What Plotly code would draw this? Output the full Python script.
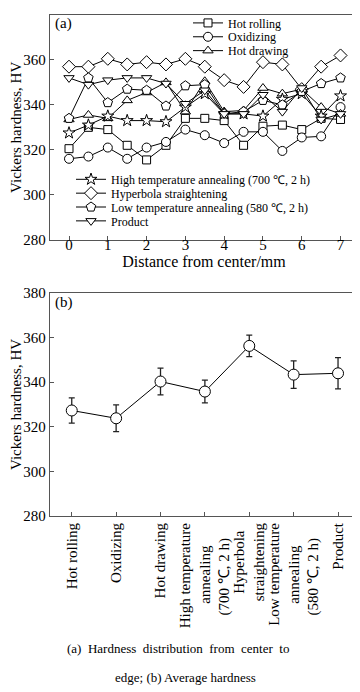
import plotly.graph_objects as go

# ---------------- data ----------------
distance = [0, 0.5, 1, 1.5, 2, 2.5, 3, 3.5, 4, 4.5, 5, 5.5, 6, 6.5, 7]

hot_rolling = [320.5, 330, 329, 322, 315.5, 322, 334, 334, 333, 322, 330.5, 331, 329, 334, 333.5]
oxidizing = [316, 317, 321, 316, 321, 323.5, 329, 326.5, 323, 328, 328, 319.5, 325.5, 326, 339]
hot_drawing = [333.5, 335.5, 334, 342, 345.5, 350, 337, 350.5, 337, 337.5, 347.5, 345, 347, 339, 336]
high_temp = [327.5, 331, 335, 333, 333, 332.5, 339, 345, 336, 336, 335, 342.5, 345, 335, 344]
hyperbola = [357, 357, 360.5, 358, 359, 358, 360.5, 357, 351, 348, 359, 358, 347, 357, 362]
low_temp = [334, 352, 341, 347, 346.5, 339.5, 348.5, 349, 336, 337, 342, 340, 346, 349.5, 352]
product = [352, 349, 351, 352, 352, 349.5, 340.5, 346.5, 336, 336, 344.5, 337, 347.5, 333.5, 336]

series_names = [
    "Hot rolling", "Oxidizing", "Hot drawing",
    "High temperature annealing (700 \u2103, 2 h)",
    "Hyperbola straightening",
    "Low temperature annealing (580 \u2103, 2 h)",
    "Product",
]
series_values = [hot_rolling, oxidizing, hot_drawing, high_temp, hyperbola, low_temp, product]
series_symbols = ["square", "circle", "triangle-up", "star", "diamond", "pentagon", "triangle-down"]
series_sizes = [8, 9, 9, 9, 10, 10, 9]

# category labels of the average-hardness panel (lines centred with no-break spaces)
NB = "\u00a0"
avg_labels = [
    "Hot rolling", "Oxidizing", "Hot drawing",
    "High temperature<br>" + NB * 6 + "annealing" + NB * 6 + "<br>" + NB * 4 + "(700 \u2103, 2 h)" + NB * 4,
    NB * 2 + "Hyperbola" + NB * 2 + "<br>straightening",
    "Low temperature<br>" + NB * 6 + "annealing" + NB * 6 + "<br>" + NB * 4 + "(580 \u2103, 2 h)" + NB * 4,
    "Product",
]
avg_hardness = [327.3, 323.8, 340.3, 335.8, 356.3, 343.4, 344.0]
avg_error = [5.7, 6.0, 6.0, 5.1, 4.8, 6.2, 7.0]

y_ticks = [280, 300, 320, 340, 360, 380]
x_ticks = [0, 1, 2, 3, 4, 5, 6, 7]

# ---------------- figure ----------------
# the page body has an 8 px margin, so the figure starts at window pixel (8, 8)
OFF = 8
W, H = 360 - OFF, 692 - OFF
L = 50 - OFF          # left edge of plot frame (window x = 50)
R = W - (358 - OFF)   # right edge of plot frame (window x = 358)
FONT = "Liberation Serif, Times New Roman, serif"

def px_x(p):  # window px -> paper x
    return (p - OFF - L) / (W - L - R)

def px_y(p):  # window px -> paper y
    return min(1.0, 1 - (p - OFF) / H)

fig = go.Figure()

# legend placement (window pixels) for each series: (x_left, y_center)
legend_pos = [(188, 16), (188, 30), (188, 44), (71, 174), (71, 188), (71, 202), (71, 216)]

for i, (name, vals) in enumerate(zip(series_names, series_values)):
    lname = "legend" if i == 0 else f"legend{i+1}"
    fig.add_trace(go.Scatter(
        x=distance, y=vals, name=name, mode="lines+markers",
        line=dict(color="black", width=1),
        marker=dict(symbol=series_symbols[i], size=series_sizes[i], color="white",
                    line=dict(color="black", width=1)),
        xaxis="x", yaxis="y", legend=lname,
    ))

fig.add_trace(go.Scatter(
    x=list(range(len(avg_labels))), y=avg_hardness, mode="lines+markers",
    line=dict(color="black", width=1),
    marker=dict(symbol="circle", size=11, color="white", line=dict(color="black", width=1)),
    error_y=dict(type="data", array=avg_error, color="#222", thickness=1.3, width=3),
    xaxis="x2", yaxis="y2", showlegend=False,
))

axis_common = dict(
    showline=True, mirror=True, linecolor="#555", linewidth=1.3,
    ticks="inside", ticklen=4, tickcolor="#555", showgrid=False, zeroline=False,
    automargin=False,
    tickfont=dict(family=FONT, size=15, color="black"),
)

top_dom = [px_y(235), 1.0]
bot_dom = [px_y(514), px_y(289)]

layout = dict(
    width=W, height=H,
    margin=dict(l=L, r=R, t=1, b=0),
    paper_bgcolor="white", plot_bgcolor="white",
    font=dict(family=FONT, color="black"),
    xaxis=dict(axis_common, domain=[0, 1], range=[-0.49, 7.45], tickvals=x_ticks,
               anchor="y", ticklabelstandoff=-9,
               title=dict(text="Distance from center/mm", font=dict(family=FONT, size=16), standoff=3)),
    yaxis=dict(axis_common, domain=top_dom, range=[280, 380], tickvals=y_ticks, anchor="x",
               title=dict(text="Vickers hardness, HV", font=dict(family=FONT, size=15), standoff=11)),
    xaxis2=dict(axis_common, domain=[0, 1], range=[-0.49, 6.45],
                tickvals=list(range(len(avg_labels))), ticktext=avg_labels, tickangle=-90,
                anchor="y2"),
    yaxis2=dict(axis_common, domain=bot_dom, range=[280, 380], tickvals=y_ticks, anchor="x2",
                title=dict(text="Vickers hardness, HV", font=dict(family=FONT, size=15), standoff=11)),
    showlegend=True,
)

for i, (px, py) in enumerate(legend_pos):
    lname = "legend" if i == 0 else f"legend{i+1}"
    layout[lname] = dict(
        x=px_x(px), y=px_y(py), xref="paper", yref="paper",
        xanchor="left", yanchor="middle", bgcolor="rgba(0,0,0,0)",
        font=dict(family=FONT, size=12, color="black"),
        itemwidth=30, borderwidth=0, tracegroupgap=0,
    )

fig.update_layout(**layout)

ann = [
    ("(a)", 53, 17, "left", 15),
    ("(b)", 53, 298, "left", 15),
    ("(a)  Hardness  distribution  from  center  to", 178, 648, "center", 13),
    ("edge; (b) Average hardness", 185, 677, "center", 13),
]
for text, x, y, xa, size in ann:
    fig.add_annotation(xref="paper", yref="paper", showarrow=False,
                       font=dict(family=FONT, color="black", size=size),
                       text=text, x=px_x(x), y=px_y(y), xanchor=xa, yanchor="middle")

fig.write_html("out.html")
